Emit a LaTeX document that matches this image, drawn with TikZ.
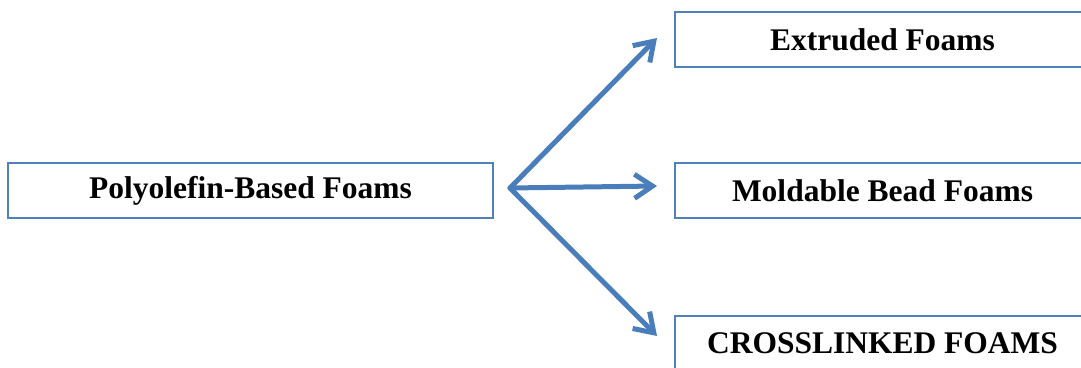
\documentclass[tikz,border=0pt]{standalone}
\usepackage{fontspec}
\setmainfont{Liberation Serif}
\usetikzlibrary{arrows.meta}
\definecolor{officeblue}{HTML}{4A7EBB}
\definecolor{boxblue}{HTML}{4F81BD}
\begin{document}
\begin{tikzpicture}[x=1pt,y=1pt,
  catbox/.style={draw=boxblue,line width=1.8pt,fill=white,minimum height=55pt,
    inner sep=0pt,font=\fontsize{31.5}{36}\selectfont\bfseries},
  branch/.style={draw=officeblue,line width=5pt,line cap=round,line join=round,
    -{Straight Barb[length=18pt,width=24pt,line width=5pt]}}]
  \useasboundingbox (0,0) rectangle (1081,367);
  \clip (0,0) rectangle (1081,367);
  % source box on the left
  \node[catbox,minimum width=485pt] (poly) at (250.5,176.5) {Polyolefin-Based Foams};
  % three target boxes on the right, running off the edge
  \node[catbox,minimum width=415pt] (ext) at (882.5,327.5) {Extruded Foams};
  \node[catbox,minimum width=415pt] (bead) at (882.5,176.5) {Moldable Bead Foams};
  \node[catbox,minimum width=415pt] (cross) at (882.5,23.5) {CROSSLINKED FOAMS};
  % fan of arrows
  \coordinate (hub) at (510,179);
  \coordinate (tipext) at (657,329);
  \coordinate (tipbead) at (657,181);
  \coordinate (tipcross) at (657,31);
  \draw[branch] (hub) -- (tipext);
  \draw[branch] (hub) -- (tipbead);
  \draw[branch] (hub) -- (tipcross);
\end{tikzpicture}
\end{document}
